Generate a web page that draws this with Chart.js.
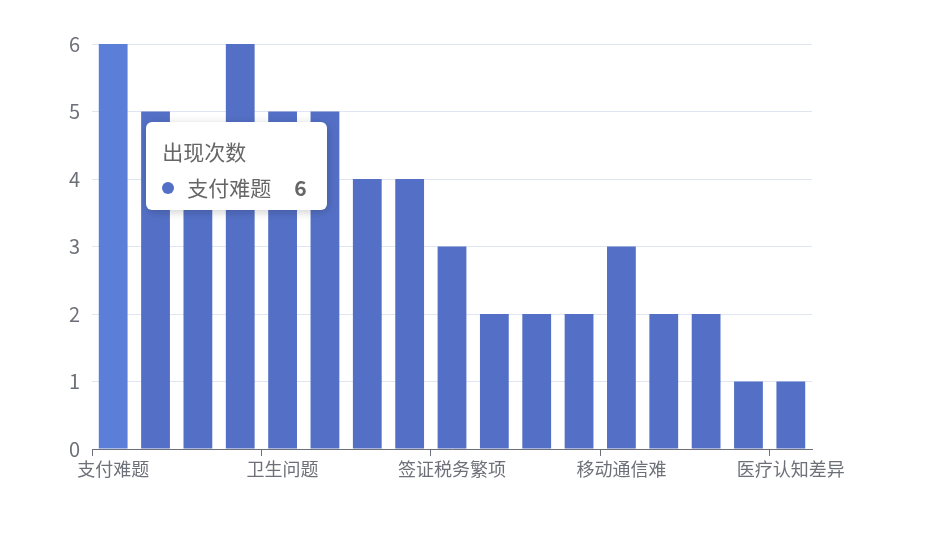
<!DOCTYPE html>
<html>
<head>
<meta charset="utf-8">
<script src="https://cdn.jsdelivr.net/npm/chart.js@4/dist/chart.umd.min.js"></script>
<style>
  html, body { margin: 0; padding: 0; background: #fff; }
  #wrap { position: relative; width: 936px; height: 550px; }
  #tip {
    position: absolute; display: none; background: #fff; border-radius: 6px;
    box-shadow: 1px 2px 10px rgba(0,0,0,0.2); padding: 14px 20px 8px 16px;
    font-family: "Noto Sans CJK SC", "Noto Sans", sans-serif; color: #666; white-space: nowrap;
  }
  #tip .t { font-size: 21px; line-height: 30px; }
  #tip .r { font-size: 21px; line-height: 30px; margin-top: 6px; }
  #tip .dot { display: inline-block; width: 12px; height: 12px; border-radius: 50%; margin-right: 13px; vertical-align: middle; position: relative; top: -2px; }
  #tip .v { font-weight: bold; margin-left: 23px; float: right; }
</style>
</head>
<body>
<div id="wrap">
  <canvas id="bar-chart" width="936" height="550"></canvas>
  <div id="tip"></div>
</div>
<script>
var seriesName = "出现次数";
var categories = ["支付难题", "语言障碍", "交通不便", "网络限制", "卫生问题", "饮食不适", "文化差异", "住宿问题",
    "签证税务繁项", "购物不便", "导航困难", "景区拥挤", "移动通信难", "预约繁琐", "安全担忧", "空气质量", "医疗认知差异"];
var counts = [6, 5, 4, 6, 5, 5, 4, 4, 3, 2, 2, 2, 3, 2, 2, 1, 1];
var yTicks = [0, 1, 2, 3, 4, 5, 6];

var barColor = '#5470c6';
var axisColor = '#6E7079';
var fontFamily = '"Noto Sans CJK SC", "Noto Sans", sans-serif';

function externalTip(context) {
    var tip = document.getElementById('tip');
    var tt = context.tooltip;
    if (tt.opacity === 0 || !tt.dataPoints || !tt.dataPoints.length) {
        tip.style.display = 'none';
        return;
    }
    var dp = tt.dataPoints[0];
    var chart = context.chart;
    tip.innerHTML = '<div class="t">' + dp.dataset.label + '</div>' +
        '<div class="r"><span class="dot" style="background:' + barColor + '"></span>' +
        dp.label + '<span class="v">' + dp.raw + '</span></div>';
    tip.style.display = 'block';
    tip.style.left = (dp.element.x + 33) + 'px';
    tip.style.top = (chart.chartArea.top + 78) + 'px';
}

var barChart = new Chart(document.getElementById("bar-chart"), {
    type: 'bar',
    data: {
        labels: categories,
        datasets: [{
            label: seriesName,
            data: counts,
            backgroundColor: barColor,
            hoverBackgroundColor: '#5b7ed8',
            borderWidth: 0,
            categoryPercentage: 1,
            barPercentage: 0.68
        }]
    },
    options: {
        responsive: false,
        animation: false,
        devicePixelRatio: 1,
        events: [],
        layout: { padding: { top: 44, right: 124, bottom: 0, left: 0 } },
        plugins: {
            legend: { display: false },
            tooltip: { enabled: false, external: externalTip }
        },
        scales: {
            x: {
                offset: true,
                border: { display: true, color: axisColor, width: 1 },
                grid: {
                    offset: true,
                    drawOnChartArea: false,
                    drawTicks: true,
                    tickLength: 7,
                    color: function (ctx) {
                        return (ctx.index % 4 === 0 || ctx.index === categories.length) ? axisColor : 'rgba(0,0,0,0)';
                    }
                },
                ticks: {
                    autoSkip: false,
                    maxRotation: 0,
                    padding: 2,
                    color: axisColor,
                    font: { family: fontFamily, size: 18 },
                    callback: function (v, i) { return i % 4 === 0 ? categories[i] : ''; }
                },
                afterFit: function (scale) { scale.height = 101; }
            },
            y: {
                min: yTicks[0],
                max: yTicks[yTicks.length - 1],
                border: { display: false },
                grid: { color: '#E0E6F1', drawTicks: false },
                ticks: {
                    stepSize: 1,
                    padding: 12,
                    color: axisColor,
                    font: { family: fontFamily, size: 20 }
                },
                afterFit: function (scale) { scale.width = 92; }
            }
        }
    }
});

var active = [{ datasetIndex: 0, index: 0 }];
barChart.setActiveElements(active);
barChart.tooltip.setActiveElements(active, { x: 0, y: 0 });
barChart.update();
</script>
</body>
</html>
